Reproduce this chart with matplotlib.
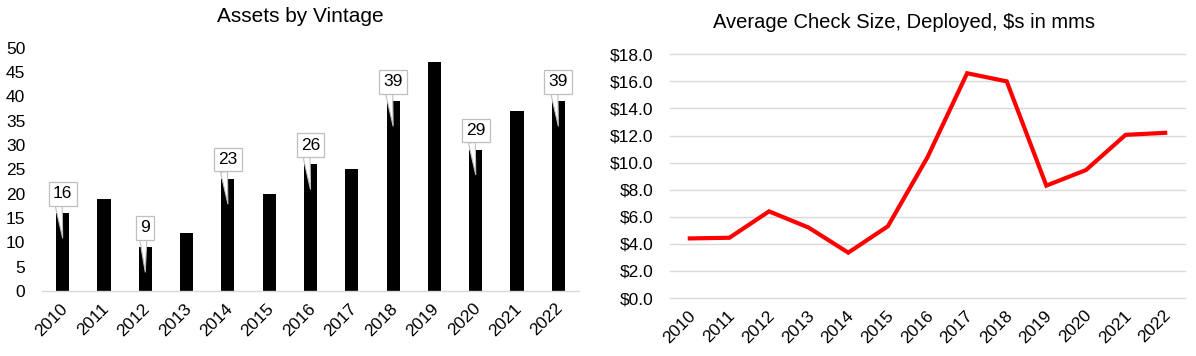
import matplotlib
matplotlib.use("Agg")
import matplotlib.pyplot as plt
import matplotlib.transforms as mtrans
import numpy as np

plt.rcParams['font.family'] = ['Liberation Sans', 'DejaVu Sans']

years = ['2010', '2011', '2012', '2013', '2014', '2015', '2016',
         '2017', '2018', '2019', '2020', '2021', '2022']
assets = [16, 19, 9, 12, 23, 20, 26, 25, 39, 47, 29, 37, 39]
labelled = [0, 2, 4, 6, 8, 10, 12]
check_size = [4.4, 4.45, 6.4, 5.2, 3.35, 5.3, 10.4, 16.6, 16.0, 8.3, 9.45, 12.05, 12.2]

left_title = 'Assets by Vintage'
right_title = 'Average Check Size, Deployed, $s in mms'
assets_ticks = list(range(0, 55, 5))
check_ticks = [0, 2, 4, 6, 8, 10, 12, 14, 16, 18]

W, H = 1196, 356
fig = plt.figure(figsize=(W / 100, H / 100), dpi=100)

def frac(x0, y0, x1, y1):
    return [x0 / W, 1 - y1 / H, (x1 - x0) / W, (y1 - y0) / H]

FS = 12.5
grey = '#d9d9d9'

def shift_labels(ax, dx_px):
    off = mtrans.ScaledTranslation(dx_px / 100, 0, fig.dpi_scale_trans)
    for lab in ax.get_xticklabels():
        lab.set_transform(lab.get_transform() + off)

# ---- Left chart ----
ax1 = fig.add_axes(frac(42, 47.7, 579, 291))
x = np.arange(len(years))
ax1.bar(x, assets, width=0.32, color='black', zorder=2)
ax1.set_xlim(-0.5, len(years) - 0.5)
ax1.set_ylim(0, 50)
ax1.set_yticks(assets_ticks)
ax1.set_yticklabels([str(t) for t in assets_ticks], fontsize=FS)
ax1.set_xticks(x)
ax1.set_xticklabels(years, fontsize=FS, rotation=45, ha='right', rotation_mode='anchor')
ax1.tick_params(axis='y', length=0, pad=12)
ax1.tick_params(axis='x', length=0, pad=7)
for s in ['top', 'right', 'left']:
    ax1.spines[s].set_visible(False)
ax1.spines['bottom'].set_color(grey)
ax1.spines['bottom'].set_linewidth(1)
shift_labels(ax1, -3)

for i in labelled:
    v = assets[i]
    ax1.annotate(str(v), xy=(x[i], v - 5.1), xytext=(x[i], v + 4),
                 ha='center', va='center', fontsize=FS, zorder=5,
                 bbox=dict(boxstyle='square,pad=0.25', fc='white', ec='#bfbfbf', lw=0.9),
                 arrowprops=dict(arrowstyle='wedge,tail_width=0.4,shrink_factor=0.5',
                                 fc='white', ec='#bfbfbf', lw=0.8,
                                 relpos=(0.27, 0.0), shrinkA=0, shrinkB=0))

fig.text(300 / W, 1 - 17 / H, left_title, ha='center', va='center', fontsize=15)

# ---- Right chart ----
ax2 = fig.add_axes(frac(670, 54.3, 1185, 298))
ax2.plot(x, check_size, color='#ff0000', lw=3, solid_joinstyle='miter', zorder=3)
ax2.set_xlim(-0.5, len(years) - 0.5)
ax2.set_ylim(0, 18)
ax2.set_yticks(check_ticks)
ax2.set_yticklabels(['${:.1f}'.format(t) for t in check_ticks], fontsize=FS)
ax2.set_xticks(x)
ax2.set_xticklabels(years, fontsize=FS, rotation=45, ha='right', rotation_mode='anchor')
ax2.tick_params(axis='y', length=0, pad=12)
ax2.tick_params(axis='x', length=0, pad=7)
ax2.grid(axis='y', color=grey, lw=1)
ax2.set_axisbelow(True)
for s in ['top', 'right', 'left', 'bottom']:
    ax2.spines[s].set_visible(False)
for ln in ax2.get_ygridlines():
    ln.set_clip_on(False)
shift_labels(ax2, -2)

fig.text(904 / W, 1 - 22 / H, right_title, ha='center', va='center', fontsize=14.5)

fig.savefig('out.png', dpi=100)
